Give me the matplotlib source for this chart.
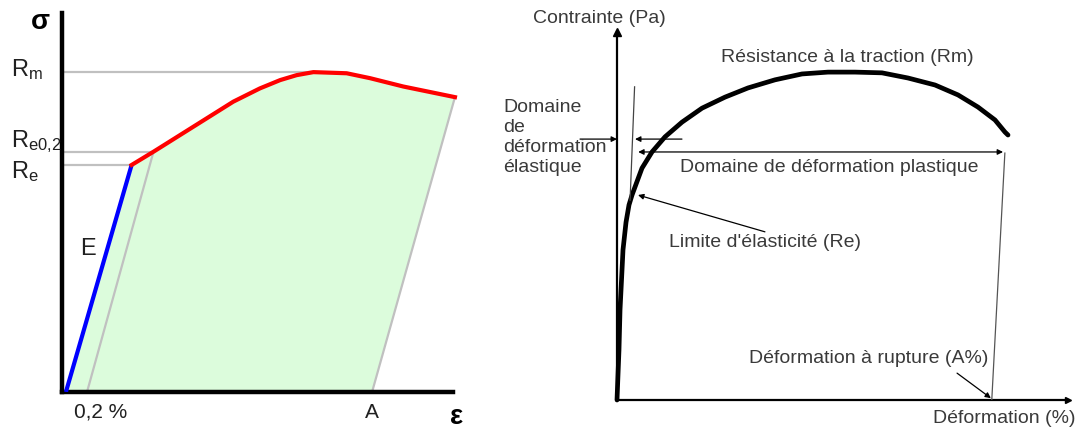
import matplotlib.pyplot as plt

plt.rcParams["font.family"] = ["Liberation Sans", "DejaVu Sans"]
plt.rcParams["mathtext.fontset"] = "custom"
plt.rcParams["mathtext.rm"] = "Liberation Sans"

# ================================================================
# LEFT PANEL DATA  (strain / stress, arbitrary units 0..100)
# ================================================================
elastic_x = [1.0, 17.8]
elastic_y = [0.0, 59.9]

plastic_x = [17.8, 23.4, 30.2, 37.0, 43.8, 50.6, 55.8, 60.0, 64.3, 72.8, 78.8, 87.3, 100.5]
plastic_y = [59.9, 63.4, 67.8, 72.2, 76.6, 80.1, 82.3, 83.6, 84.4, 84.1, 82.8, 80.6, 77.8]

offset_x = [6.4, 23.4]        # 0,2 % parallel line
offset_y = [0.0, 63.4]
rupture_x = [79.3, 100.5]     # unloading line at A
rupture_y = [0.0, 77.8]

level_values = [84.4, 63.4, 59.9]
level_ends = [64.0, 23.4, 17.8]

# ================================================================
# RIGHT PANEL DATA
# ================================================================
curve_x = [0.0, 0.44, 0.67, 1.11, 1.33, 2.0, 2.66, 3.33, 5.54, 7.76, 10.64, 14.41,
           18.85, 23.95, 29.05, 35.03, 41.02, 46.78, 52.77, 58.76, 64.52, 70.51,
           75.61, 80.04, 83.81, 86.03, 86.7]
curve_y = [0.0, 13.6, 24.5, 35.3, 40.8, 48.3, 53.0, 55.7, 63.0, 67.4, 71.5, 75.5,
           79.3, 82.3, 84.8, 87.0, 88.6, 89.1, 89.1, 88.9, 87.5, 85.6,
           82.9, 79.6, 76.1, 72.8, 72.0]

elastic_guide_x = [3.9, 2.9]
elastic_guide_y = [85.1, 54.3]
rupture_guide_x = [86.0, 83.1]
rupture_guide_y = [67.1, 0.0]


fig = plt.figure(figsize=(10.78, 4.33), dpi=100)

# ---------------------------
# LEFT: offset yield diagram
# ---------------------------
ax1 = fig.add_axes([62 / 1078, 41 / 433, 391 / 1078, 379 / 433])
ax1.set_xlim(0, 100)
ax1.set_ylim(0, 100)

fill_x = elastic_x + plastic_x[1:] + [rupture_x[0]]
fill_y = elastic_y + plastic_y[1:] + [rupture_y[0]]
ax1.fill(fill_x, fill_y, color="#dcfcdc", lw=0, clip_on=False, zorder=1)

ax1.plot(offset_x, offset_y, color="#c0c0c0", lw=1.6, zorder=2)
ax1.plot(rupture_x, rupture_y, color="#c0c0c0", lw=1.6, zorder=2, clip_on=False)
for val, end in zip(level_values, level_ends):
    ax1.plot([0, end], [val, val], color="#c0c0c0", lw=1.6, zorder=2)

ax1.plot(elastic_x, elastic_y, color="#0000ff", lw=3, zorder=3, solid_capstyle="butt")
ax1.plot(plastic_x, plastic_y, color="#ff0000", lw=3, zorder=3, clip_on=False,
         solid_joinstyle="round")

for ax_side in ["top", "right"]:
    ax1.spines[ax_side].set_visible(False)
for ax_side in ["left", "bottom"]:
    ax1.spines[ax_side].set_linewidth(3.2)
    ax1.spines[ax_side].set_color("black")
ax1.set_xticks([])
ax1.set_yticks([])
ax1.patch.set_alpha(0)

txt = dict(fontsize=17, color="#202020")
ax1.text(-13.0, 83.4, r"$\mathregular{R_{m}}$", va="baseline", ha="left", **txt)
ax1.text(-13.0, 64.6, r"$\mathregular{R_{e0{,}2}}$", va="baseline", ha="left", **txt)
ax1.text(-13.0, 56.5, r"$\mathregular{R_{e}}$", va="baseline", ha="left", **txt)
ax1.text(6.6, 37.7, "E", ha="center", va="center", **txt)
ax1.text(10.0, -5.3, "0,2 %", ha="center", va="center", fontsize=15, color="#202020")
ax1.text(79.3, -5.3, "A", ha="center", va="center", fontsize=15, color="#202020")
ax1.text(-5.6, 97.6, "σ", ha="center", va="center", fontsize=20, fontweight="bold")
ax1.text(100.8, -6.6, "ε", ha="center", va="center", fontsize=20, fontweight="bold")

# ---------------------------
# RIGHT: annotated tensile curve
# ---------------------------
ax2 = fig.add_axes([617 / 1078, 33 / 433, 451 / 1078, 368 / 433])
ax2.set_xlim(0, 100)
ax2.set_ylim(0, 100)
ax2.axis("off")

ax2.plot([0, 0], [0, 100], color="black", lw=1.6, clip_on=False)
ax2.plot([0, 100], [0, 0], color="black", lw=1.6, clip_on=False)
ax2.plot(0, 100, marker="^", color="black", ms=6, clip_on=False)
ax2.plot(100, 0, marker=">", color="black", ms=5, clip_on=False)

ax2.plot(curve_x, curve_y, color="black", lw=3.4, solid_capstyle="round",
         solid_joinstyle="round", clip_on=False)
ax2.plot(elastic_guide_x, elastic_guide_y, color="#444444", lw=0.9)
ax2.plot(rupture_guide_x, rupture_guide_y, color="#555555", lw=0.9)

arrow = dict(arrowstyle="-|>", color="black", lw=0.9, mutation_scale=8,
             shrinkA=0, shrinkB=0)
ax2.annotate("", xy=(0, 70.9), xytext=(-8.2, 70.9), arrowprops=arrow,
             annotation_clip=False)
ax2.annotate("", xy=(4.0, 70.9), xytext=(14.4, 70.9), arrowprops=arrow)
ax2.annotate("", xy=(4.7, 67.4), xytext=(85.6, 67.4),
             arrowprops=dict(arrow, arrowstyle="<|-|>"))
ax2.annotate("", xy=(4.66, 55.7), xytext=(32.8, 45.7), arrowprops=arrow)
ax2.annotate("", xy=(82.9, 0.5), xytext=(75.4, 7.3), arrowprops=arrow)

lab = dict(fontsize=14, color="#3a3a3a")
ax2.text(-3.8, 103.8, "Contrainte (Pa)", ha="center", va="center", **lab)
ax2.text(51.0, 93.2, "Résistance à la traction (Rm)", ha="center", va="center", **lab)
ax2.text(-25.3, 81.8, "Domaine\nde\ndéformation\nélastique", ha="left", va="top",
         linespacing=1.22, **lab)
ax2.text(47.0, 63.3, "Domaine de déformation plastique", ha="center", va="center", **lab)
ax2.text(32.8, 42.7, "Limite d'élasticité (Re)", ha="center", va="center", **lab)
ax2.text(55.7, 11.4, "Déformation à rupture (A%)", ha="center", va="center", **lab)
ax2.text(85.8, -4.9, "Déformation (%)", ha="center", va="center", **lab)

plt.savefig("out.png", dpi=100)
